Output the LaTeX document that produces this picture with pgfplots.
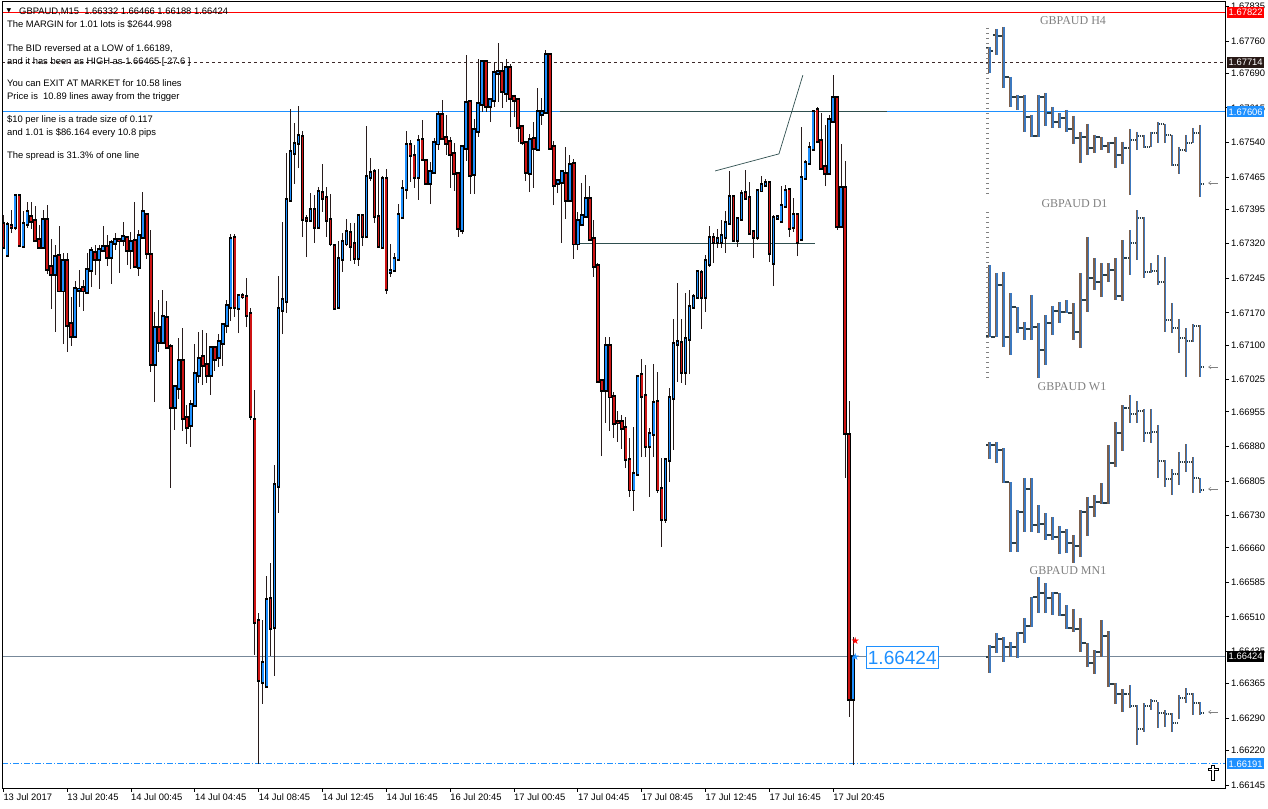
\documentclass[border=0pt]{standalone}
\usepackage{pgfplots}
\pgfplotsset{compat=1.18}
\usepackage{pgfplotstable}
\usepackage{fontspec}
\setmainfont{Liberation Sans}
\newfontfamily\seriffont{Liberation Serif}
\newfontfamily\sym{DejaVu Sans}

\definecolor{bullc}{RGB}{30,144,255}
\definecolor{bearc}{RGB}{205,20,20}
\definecolor{wickc}{RGB}{40,28,28}
\definecolor{dodger}{RGB}{30,144,255}
\definecolor{dslate}{RGB}{47,79,79}
\definecolor{slategray}{RGB}{119,136,153}
\definecolor{dashc}{RGB}{60,40,40}
\definecolor{minib}{RGB}{60,120,190}
\definecolor{minibr}{RGB}{125,95,75}
\definecolor{minit}{RGB}{40,60,70}
\definecolor{titlegray}{RGB}{128,128,128}

\newcommand\tickfont{\fontsize{9.4bp}{11bp}\selectfont}

% GBPAUD M15 candles: index, open, high, low, close
\pgfplotstableread{
i o h l c
0 1.67363 1.67382 1.67313 1.67313
1 1.67296 1.67367 1.67296 1.67361
2 1.67359 1.67393 1.67343 1.67356
3 1.67356 1.67426 1.67350 1.67424
4 1.67424 1.67426 1.67315 1.67317
5 1.67315 1.67391 1.67311 1.67363
6 1.67363 1.67411 1.67354 1.67389
7 1.67378 1.67411 1.67352 1.67369
8 1.67369 1.67402 1.67326 1.67328
9 1.67328 1.67361 1.67311 1.67313
10 1.67313 1.67393 1.67309 1.67372
11 1.67372 1.67404 1.67254 1.67265
12 1.67270 1.67330 1.67178 1.67254
13 1.67254 1.67317 1.67129 1.67291
14 1.67293 1.67359 1.67215 1.67218
15 1.67218 1.67300 1.67102 1.67283
16 1.67283 1.67300 1.67085 1.67144
17 1.67146 1.67204 1.67098 1.67120
18 1.67120 1.67239 1.67115 1.67222
19 1.67220 1.67263 1.67183 1.67221
20 1.67224 1.67241 1.67174 1.67218
21 1.67215 1.67300 1.67211 1.67263
22 1.67263 1.67313 1.67226 1.67304
23 1.67300 1.67317 1.67252 1.67287
24 1.67287 1.67317 1.67222 1.67306
25 1.67306 1.67359 1.67304 1.67313
26 1.67313 1.67339 1.67272 1.67291
27 1.67291 1.67328 1.67233 1.67322
28 1.67322 1.67343 1.67306 1.67328
29 1.67328 1.67333 1.67257 1.67327
30 1.67328 1.67367 1.67315 1.67335
31 1.67333 1.67334 1.67274 1.67306
32 1.67306 1.67346 1.67265 1.67324
33 1.67326 1.67411 1.67270 1.67272
34 1.67270 1.67350 1.67250 1.67337
35 1.67335 1.67432 1.67333 1.67389
36 1.67382 1.67387 1.67287 1.67300
37 1.67296 1.67350 1.67042 1.67059
38 1.67059 1.67172 1.66977 1.67137
39 1.67137 1.67198 1.67085 1.67107
40 1.67107 1.67220 1.67102 1.67161
41 1.67159 1.67196 1.67094 1.67096
42 1.67096 1.67102 1.66790 1.66966
43 1.66966 1.67014 1.66916 1.67009
44 1.67007 1.67115 1.66983 1.67066
45 1.67066 1.67137 1.66914 1.66942
46 1.66942 1.66970 1.66886 1.66922
47 1.66927 1.66981 1.66879 1.66970
48 1.66970 1.67102 1.66968 1.67037
49 1.67035 1.67129 1.67018 1.67070
50 1.67074 1.67133 1.67014 1.67057
51 1.67057 1.67126 1.67018 1.67035
52 1.67035 1.67095 1.66992 1.67094
53 1.67094 1.67095 1.67044 1.67070
54 1.67074 1.67124 1.67053 1.67107
55 1.67105 1.67146 1.67055 1.67144
56 1.67144 1.67198 1.67126 1.67185
57 1.67183 1.67341 1.67152 1.67330
58 1.67333 1.67341 1.67161 1.67183
59 1.67181 1.67209 1.67126 1.67207
60 1.67207 1.67212 1.67200 1.67205
61 1.67205 1.67246 1.67139 1.67165
62 1.67168 1.67181 1.66938 1.66946
63 1.66938 1.67003 1.66428 1.66499
64 1.66501 1.66519 1.66191 1.66373
65 1.66369 1.66504 1.66321 1.66410
66 1.66360 1.66599 1.66359 1.66547
67 1.66549 1.66627 1.66425 1.66486
68 1.66488 1.66840 1.66382 1.66796
69 1.66794 1.67250 1.66736 1.67178
70 1.67176 1.67367 1.67124 1.67198
71 1.67196 1.67517 1.67170 1.67415
72 1.67415 1.67612 1.67414 1.67519
73 1.67517 1.67582 1.67450 1.67537
74 1.67539 1.67619 1.67484 1.67554
75 1.67552 1.67565 1.67335 1.67374
76 1.67374 1.67382 1.67291 1.67372
77 1.67372 1.67430 1.67369 1.67393
78 1.67393 1.67426 1.67322 1.67356
79 1.67356 1.67443 1.67354 1.67432
80 1.67430 1.67493 1.67389 1.67419
81 1.67419 1.67443 1.67335 1.67372
82 1.67372 1.67428 1.67315 1.67320
83 1.67315 1.67317 1.67180 1.67181
84 1.67183 1.67326 1.67180 1.67287
85 1.67287 1.67343 1.67259 1.67324
86 1.67320 1.67374 1.67315 1.67346
87 1.67343 1.67365 1.67283 1.67315
88 1.67320 1.67365 1.67276 1.67289
89 1.67289 1.67381 1.67272 1.67380
90 1.67380 1.67381 1.67315 1.67337
91 1.67337 1.67576 1.67335 1.67465
92 1.67465 1.67506 1.67456 1.67474
93 1.67476 1.67482 1.67365 1.67380
94 1.67378 1.67482 1.67313 1.67315
95 1.67313 1.67467 1.67311 1.67461
96 1.67461 1.67482 1.67211 1.67222
97 1.67259 1.67320 1.67248 1.67261
98 1.67263 1.67300 1.67261 1.67287
99 1.67287 1.67406 1.67285 1.67382
100 1.67378 1.67458 1.67376 1.67439
101 1.67439 1.67565 1.67417 1.67534
102 1.67534 1.67545 1.67454 1.67513
103 1.67510 1.67534 1.67441 1.67465
104 1.67465 1.67556 1.67415 1.67543
105 1.67545 1.67589 1.67502 1.67504
106 1.67500 1.67502 1.67448 1.67452
107 1.67452 1.67497 1.67406 1.67476
108 1.67476 1.67550 1.67474 1.67539
109 1.67537 1.67608 1.67524 1.67599
110 1.67599 1.67632 1.67545 1.67550
111 1.67550 1.67599 1.67513 1.67539
112 1.67541 1.67552 1.67441 1.67515
113 1.67515 1.67539 1.67435 1.67474
114 1.67471 1.67472 1.67335 1.67354
115 1.67350 1.67531 1.67341 1.67530
116 1.67528 1.67730 1.67500 1.67626
117 1.67628 1.67628 1.67428 1.67469
118 1.67471 1.67591 1.67428 1.67567
119 1.67565 1.67721 1.67552 1.67623
120 1.67623 1.67714 1.67606 1.67714
121 1.67714 1.67714 1.67606 1.67619
122 1.67619 1.67632 1.67584 1.67632
123 1.67632 1.67714 1.67617 1.67691
124 1.67691 1.67756 1.67628 1.67693
125 1.67693 1.67712 1.67615 1.67652
126 1.67647 1.67721 1.67628 1.67701
127 1.67701 1.67710 1.67573 1.67636
128 1.67638 1.67638 1.67595 1.67632
129 1.67632 1.67634 1.67541 1.67573
130 1.67573 1.67573 1.67534 1.67541
131 1.67539 1.67539 1.67456 1.67476
132 1.67474 1.67558 1.67432 1.67545
133 1.67547 1.67584 1.67441 1.67528
134 1.67526 1.67658 1.67524 1.67606
135 1.67602 1.67636 1.67578 1.67606
136 1.67606 1.67740 1.67604 1.67730
137 1.67730 1.67730 1.67524 1.67528
138 1.67530 1.67543 1.67404 1.67448
139 1.67452 1.67458 1.67430 1.67456
140 1.67454 1.67480 1.67322 1.67476
141 1.67471 1.67530 1.67374 1.67415
142 1.67415 1.67513 1.67413 1.67491
143 1.67493 1.67504 1.67287 1.67320
144 1.67320 1.67389 1.67306 1.67369
145 1.67363 1.67452 1.67359 1.67380
146 1.67380 1.67469 1.67378 1.67417
147 1.67417 1.67445 1.67328 1.67330
148 1.67330 1.67372 1.67248 1.67272
149 1.67272 1.67278 1.67018 1.67022
150 1.67022 1.67024 1.66859 1.67003
151 1.67003 1.67118 1.66931 1.67098
152 1.67098 1.67118 1.66914 1.66988
153 1.66988 1.66998 1.66899 1.66931
154 1.66933 1.66957 1.66890 1.66932
155 1.66933 1.66948 1.66875 1.66920
156 1.66920 1.66944 1.66833 1.66853
157 1.66851 1.66899 1.66771 1.66786
158 1.66786 1.66922 1.66740 1.66820
159 1.66820 1.67035 1.66816 1.67031
160 1.67035 1.67070 1.66857 1.66990
161 1.66990 1.67057 1.66857 1.66881
162 1.66881 1.66920 1.66771 1.66907
163 1.66907 1.67059 1.66857 1.66974
164 1.66977 1.67042 1.66779 1.66786
165 1.66788 1.66855 1.66662 1.66723
166 1.66723 1.66855 1.66714 1.66851
167 1.66851 1.67007 1.66803 1.66985
168 1.66985 1.67157 1.66872 1.67102
169 1.67102 1.67235 1.67020 1.67107
170 1.67105 1.67157 1.67018 1.67042
171 1.67042 1.67213 1.67014 1.67113
172 1.67113 1.67220 1.67037 1.67183
173 1.67183 1.67211 1.67181 1.67204
174 1.67204 1.67260 1.67202 1.67259
175 1.67257 1.67263 1.67135 1.67204
176 1.67204 1.67296 1.67172 1.67283
177 1.67276 1.67359 1.67270 1.67333
178 1.67333 1.67343 1.67278 1.67324
179 1.67324 1.67352 1.67311 1.67330
180 1.67324 1.67372 1.67311 1.67337
181 1.67335 1.67391 1.67300 1.67365
182 1.67365 1.67478 1.67363 1.67422
183 1.67422 1.67424 1.67324 1.67328
184 1.67328 1.67375 1.67313 1.67374
185 1.67374 1.67437 1.67372 1.67428
186 1.67430 1.67480 1.67417 1.67419
187 1.67419 1.67454 1.67341 1.67343
188 1.67346 1.67347 1.67289 1.67335
189 1.67335 1.67436 1.67328 1.67435
190 1.67435 1.67467 1.67432 1.67448
191 1.67448 1.67461 1.67445 1.67452
192 1.67452 1.67453 1.67280 1.67300
193 1.67278 1.67382 1.67228 1.67376
194 1.67376 1.67382 1.67374 1.67378
195 1.67369 1.67445 1.67366 1.67402
196 1.67402 1.67448 1.67400 1.67435
197 1.67437 1.67438 1.67335 1.67354
198 1.67356 1.67419 1.67346 1.67382
199 1.67382 1.67383 1.67293 1.67324
200 1.67330 1.67573 1.67328 1.67463
201 1.67463 1.67502 1.67461 1.67495
202 1.67495 1.67541 1.67493 1.67528
203 1.67526 1.67610 1.67524 1.67606
204 1.67610 1.67617 1.67541 1.67543
205 1.67543 1.67604 1.67482 1.67484
206 1.67487 1.67578 1.67445 1.67474
207 1.67474 1.67599 1.67471 1.67589
208 1.67586 1.67686 1.67584 1.67636
209 1.67636 1.67637 1.67350 1.67359
210 1.67359 1.67537 1.67356 1.67441
211 1.67441 1.67500 1.66812 1.66909
212 1.66905 1.66979 1.66293 1.66332
213 1.66332 1.66466 1.66188 1.66424
}\candles

% mini charts (no price scale shown): positions in chart pixels, y downward
\pgfplotstableread{
k h l o c
0 47 73 48 51
1 29 55 35 36
2 27 88 36 77
3 77 107 77 97
4 95 110 97 97
5 95 132 97 117
6 115 137 117 136
7 95 137 136 97
8 93 126 97 113
9 107 128 113 122
10 113 128 122 118
11 110 132 118 129
12 116 144 129 138
13 132 163 138 137
14 124 155 137 148
15 135 153 148 137
16 137 150 137 146
17 142 153 146 143
18 137 168 143 155
19 142 164 155 148
20 129 195 148 140
21 132 150 140 136
22 135 148 136 147
23 132 147 147 133
24 122 143 133 124
25 124 143 124 135
26 135 166 135 165
27 147 174 165 150
28 135 152 150 143
29 128 143 143 133
30 125 197 133 184
}\hfour
\pgfplotstableread{
k h l o c
0 265 337 336 337
1 273 337 337 285
2 272 347 285 337
3 293 355 337 307
4 307 333 307 328
5 322 340 328 329
6 295 340 329 327
7 323 378 327 350
8 315 365 350 323
9 306 335 323 311
10 302 323 311 312
11 300 313 312 313
12 303 340 313 332
13 273 348 332 300
14 237 312 300 278
15 258 290 278 282
16 263 297 282 275
17 263 282 275 270
18 258 300 270 296
19 240 301 296 258
20 230 275 258 243
21 210 260 243 218
22 217 278 218 272
23 263 273 272 271
24 255 285 271 282
25 257 332 282 320
26 303 333 320 328
27 319 353 328 338
28 328 377 338 341
29 324 342 341 326
30 325 377 326 367
}\done
\pgfplotstableread{
k h l o c
0 442 459 445 445
1 442 463 445 450
2 448 483 450 482
3 482 552 482 543
4 510 552 543 512
5 478 532 512 489
6 478 532 489 525
7 505 533 525 524
8 513 540 524 535
9 517 540 535 537
10 526 554 537 532
11 529 553 532 543
12 535 563 543 546
13 510 557 546 512
14 497 536 512 507
15 495 517 507 502
16 483 504 502 503
17 445 504 503 463
18 422 467 463 433
19 405 451 433 408
20 395 423 408 414
21 401 423 414 411
22 409 442 411 433
23 409 443 433 432
24 425 478 432 461
25 460 487 461 479
26 469 495 479 474
27 452 485 474 462
28 444 472 462 462
29 457 493 462 478
30 478 493 478 490
}\wone
\pgfplotstableread{
k h l o c
0 645 673 657 647
1 633 653 647 639
2 637 662 639 647
3 642 657 647 647
4 632 658 647 633
5 618 643 633 626
6 597 627 626 597
7 577 613 597 593
8 583 613 593 598
9 592 615 598 593
10 593 616 593 615
11 605 629 615 628
12 609 632 628 629
13 618 652 629 643
14 643 667 643 663
15 650 674 663 652
16 620 657 652 636
17 631 687 636 684
18 683 704 684 694
19 689 712 694 694
20 685 708 694 706
21 705 745 706 729
22 703 732 729 706
23 699 710 706 701
24 702 728 701 713
25 710 727 713 714
26 713 732 714 723
27 695 719 723 698
28 688 703 698 694
29 693 715 694 703
30 702 715 703 713
}\mnone

\pgfplotsset{errplot/.style={draw=none, mark=none, error bars/error mark=none}}

\newcommand\minichart[1]{%
\addplot[errplot, error bars/.cd, y dir=plus, y explicit,
  error bar style={draw=minibr, line width=1.2bp}]
  table[x expr=988.7+7.02*\thisrow{k}, y=h, y error plus expr=\thisrow{l}-\thisrow{h}] {#1};
\addplot[errplot, error bars/.cd, y dir=plus, y explicit,
  error bar style={draw=minib, line width=1.3bp}]
  table[x expr=989.9+7.02*\thisrow{k}, y=h, y error plus expr=\thisrow{l}-\thisrow{h}] {#1};
\addplot[errplot, error bars/.cd, x dir=minus, x explicit,
  error bar style={draw=minit, line width=1.3bp, dash pattern=on 1bp off 0.6bp}]
  table[x expr=988.1+7.02*\thisrow{k}, y=o, x error minus expr=2.6] {#1};
\addplot[errplot, error bars/.cd, x dir=plus, x explicit,
  error bar style={draw=minit, line width=1.3bp, dash pattern=on 1bp off 0.6bp}]
  table[x expr=990.5+7.02*\thisrow{k}, y=c, x error plus expr=2.6] {#1};
}

\begin{document}
\begin{tikzpicture}
\useasboundingbox (0,0) rectangle (1268bp,809bp);
\begin{axis}[
  at={(2bp,21bp)}, anchor=south west,
  scale only axis, width=1223bp, height=786bp,
  xmin=-0.33, xmax=306.2, ymin=1.661386, ymax=1.678447,
  axis line style={black, line width=1bp},
  axis on top,
  ytick pos=right, yticklabel pos=right, xtick pos=bottom,
  tick align=outside, major tick length=4bp,
  tick style={black, line width=0.8bp},
  tick label style={font=\tickfont, inner sep=0pt},
  ytick={1.67835,1.67760,1.67690,1.67615,1.67540,1.67465,1.67395,1.67320,1.67245,1.67170,1.67100,1.67025,1.66955,1.66880,1.66805,1.66730,1.66660,1.66585,1.66510,1.66435,1.66365,1.66290,1.66220,1.66145},
  yticklabels={1.67835,1.67760,1.67690,1.67615,1.67540,1.67465,1.67395,1.67320,1.67245,1.67170,1.67100,1.67025,1.66955,1.66880,1.66805,1.66730,1.66660,1.66585,1.66510,1.66435,1.66365,1.66290,1.66220,1.66145},
  xtick={0,16,...,208},
  xticklabels={13 Jul 2017,13 Jul 20:45,14 Jul 00:45,14 Jul 04:45,14 Jul 08:45,14 Jul 12:45,14 Jul 16:45,16 Jul 20:45,17 Jul 00:45,17 Jul 04:45,17 Jul 08:45,17 Jul 12:45,17 Jul 16:45,17 Jul 20:45},
  yticklabel style={anchor=west, xshift=2bp},
  xticklabel style={anchor=north west, yshift=-1bp},
]
% horizontal levels
\addplot[red, line width=1bp] coordinates {(-0.33,1.67822) (306.2,1.67822)};
\addplot[dashc, line width=0.8bp, dash pattern=on 3bp off 3bp] coordinates {(-0.33,1.67714) (306.2,1.67714)};
\addplot[dodger, line width=1bp] coordinates {(-0.33,1.67606) (306.2,1.67606)};
\addplot[dslate, line width=1bp] coordinates {(139.5,1.67608) (221.5,1.67608)};
\addplot[slategray, line width=1bp] coordinates {(-0.33,1.66424) (306.2,1.66424)};
\addplot[dodger, line width=1bp, dash pattern=on 6bp off 2bp on 1bp off 2bp] coordinates {(-0.33,1.66191) (306.2,1.66191)};
\addplot[dslate, line width=1bp] coordinates {(142.5,1.67320) (203.4,1.67320)};
\addplot[dslate, line width=0.7bp] coordinates {(178.4,1.67478) (194.4,1.67515) (200.4,1.67686)};
% wicks
\addplot[errplot, error bars/.cd, y dir=plus, y explicit,
  error bar style={draw=wickc, line width=1bp}]
  table[x=i, y=l, y error plus expr=\thisrow{h}-\thisrow{l}] {\candles};
% body outlines
\addplot[errplot, error bars/.cd, y dir=plus, y explicit,
  error bar style={draw=black, line width=3.5bp, line cap=rect}]
  table[x=i, y expr={min(\thisrow{o},\thisrow{c})}, y error plus expr={max(abs(\thisrow{c}-\thisrow{o}),0.000004)}] {\candles};
% bull bodies
\addplot[errplot, restrict expr to domain={\thisrow{c}-\thisrow{o}}{0:1},
  error bars/.cd, y dir=plus, y explicit,
  error bar style={draw=bullc, line width=1.7bp}]
  table[x=i, y=o, y error plus expr={\thisrow{c}-\thisrow{o}}] {\candles};
% bear bodies
\addplot[errplot, restrict expr to domain={\thisrow{o}-\thisrow{c}}{0.000001:1},
  error bars/.cd, y dir=plus, y explicit,
  error bar style={draw=bearc, line width=1.7bp}]
  table[x=i, y=c, y error plus expr={\thisrow{o}-\thisrow{c}}] {\candles};
\end{axis}

\begin{axis}[
  at={(2bp,21bp)}, anchor=south west,
  scale only axis, width=1223bp, height=786bp,
  xmin=2, xmax=1225, ymin=2, ymax=788, y dir=reverse,
  hide axis, clip=false,
]
\minichart{\hfour}
\minichart{\done}
\minichart{\wone}
\minichart{\mnone}
% scale dashes of the H4 and D1 panels
\draw[gray, line width=3bp, dash pattern=on 0.8bp off 4.2bp] (987.5,28) -- (987.5,194);
\draw[gray, line width=3bp, dash pattern=on 0.8bp off 4.2bp] (987.5,212) -- (987.5,378);
% arrows at the end of the mini charts
\draw[gray, line width=0.5bp] (1208.5,183) -- (1218,183);
\draw[gray, line width=0.5bp] (1211,181.2) -- (1208.5,183) -- (1211,184.8);
\draw[gray, line width=0.5bp] (1208.5,367) -- (1218,367);
\draw[gray, line width=0.5bp] (1211,365.2) -- (1208.5,367) -- (1211,368.8);
\draw[gray, line width=0.5bp] (1208.5,489) -- (1218,489);
\draw[gray, line width=0.5bp] (1211,487.2) -- (1208.5,489) -- (1211,490.8);
\draw[gray, line width=0.5bp] (1208.5,712) -- (1218,712);
\draw[gray, line width=0.5bp] (1211,710.2) -- (1208.5,712) -- (1211,713.8);
\begin{scope}[every node/.style={text=titlegray, font=\seriffont\fontsize{12bp}{12bp}\selectfont, inner sep=0pt}]
\node at (1073,20.5) {GBPAUD H4};
\node at (1074.5,203.5) {GBPAUD D1};
\node at (1072,387) {GBPAUD W1};
\node at (1068,571) {GBPAUD MN1};
\end{scope}
% info text
\begin{scope}[every node/.style={anchor=base west, font=\tickfont, inner sep=0pt, text=black}]
\node at (19,14.5) {GBPAUD,M15\ \ 1.66332 1.66466 1.66188 1.66424};
\node at (7,27.5) {The MARGIN for 1.01 lots is \$2644.998};
\node at (7,51.5) {The BID reversed at a LOW of 1.66189,};
\node at (7,64.5) {and it has been as HIGH as 1.66465 [ 27.6 ]};
\node at (7,86.5) {You can EXIT AT MARKET for 10.58 lines};
\node at (7,99.5) {Price is\ \ 10.89 lines away from the trigger};
\node at (7,122.5) {\$10 per line is a trade size of 0.117};
\node at (7,135.5) {and 1.01 is \$86.164 every 10.8 pips};
\node at (7,158.5) {The spread is 31.3\% of one line};
\end{scope}
\node[font=\sym\fontsize{6bp}{6bp}\selectfont, inner sep=0pt] at (9,11) {▼};
% stars and price label
\node[font=\sym\fontsize{10bp}{10bp}\selectfont, text=red, inner sep=0pt] at (855.3,641) {★};
\node[font=\sym\fontsize{10bp}{10bp}\selectfont, text=dodger, inner sep=0pt] at (855.3,657) {★};
\node[anchor=west, draw=dodger, fill=white, text=dodger, line width=0.8bp,
  font=\fontsize{19bp}{19bp}\selectfont, inner xsep=1.5bp, inner ysep=0pt, minimum height=22bp]
  at (866,657.5) {1.66424};
% right scale price boxes
\begin{scope}[every node/.style={anchor=west, text=white, font=\tickfont, inner xsep=1.5bp, inner ysep=0pt, minimum height=11bp}]
\node[fill=red] at (1227,12.4) {1.67822};
\node[fill={rgb,255:red,40;green,25;blue,22}] at (1227,62.2) {1.67714};
\node[fill=dodger] at (1227,111.9) {1.67606};
\node[fill=black] at (1227,656.5) {1.66424};
\node[fill=dodger] at (1227,763.8) {1.66191};
\end{scope}
% symbol at the bottom right
\fill[black] (1211.2,764.5) rectangle (1214.8,780.5);
\fill[black] (1207.5,767.8) rectangle (1218.5,771.4);
\fill[white] (1212.2,765.5) rectangle (1213.8,779.5);
\fill[white] (1208.5,768.8) rectangle (1217.5,770.4);
\end{axis}
\end{tikzpicture}
\end{document}
